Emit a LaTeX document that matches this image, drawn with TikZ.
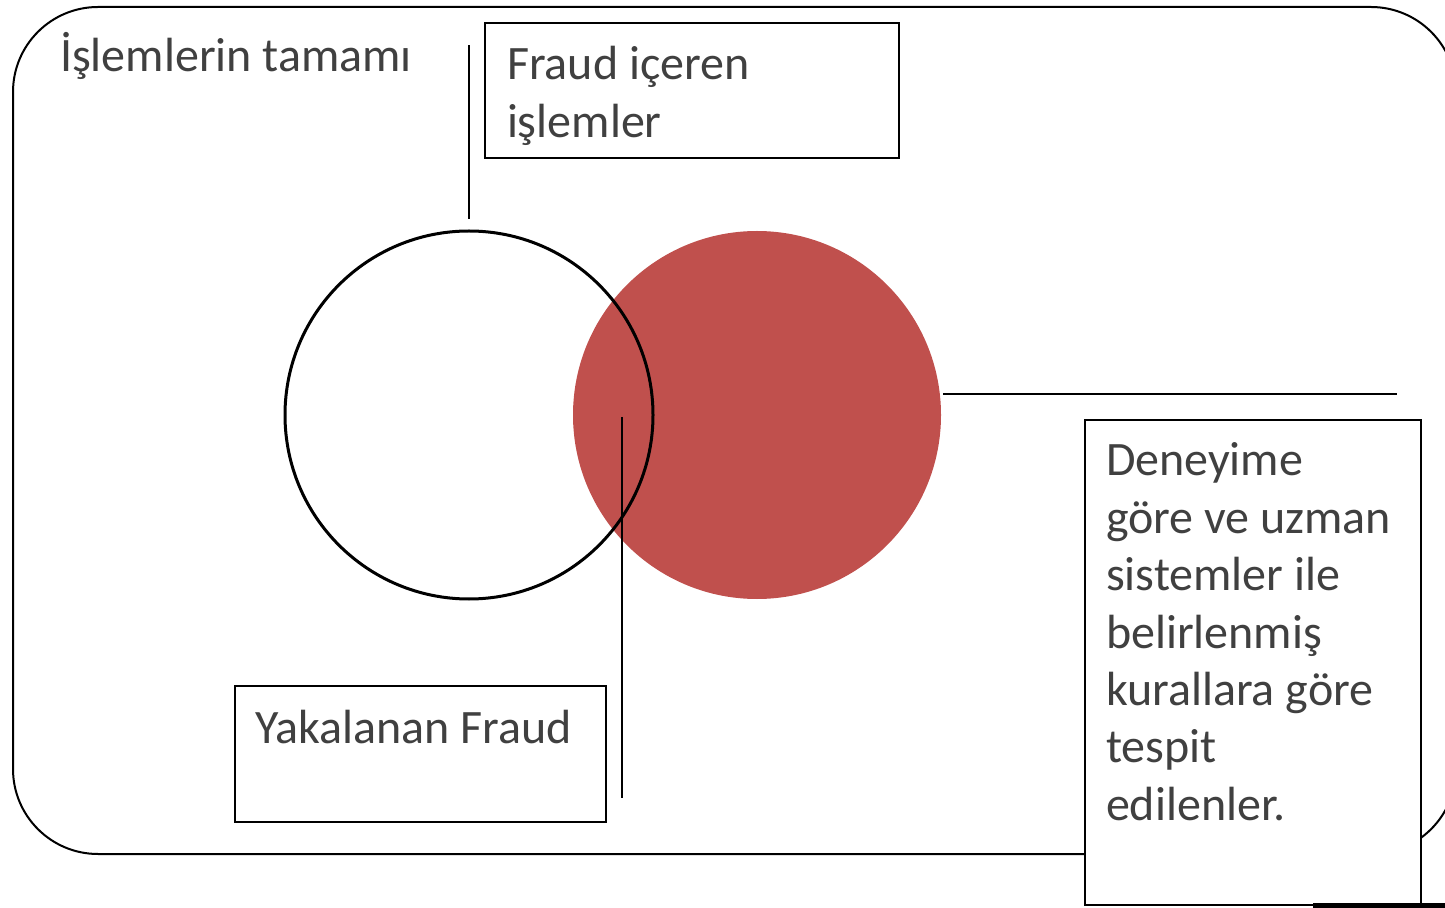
\documentclass[tikz,border=0pt]{standalone}
\usepackage{fontspec}
\setmainfont{Carlito}
\definecolor{fraudred}{HTML}{C0504D}
\definecolor{labelgray}{HTML}{404040}

\begin{document}
\begin{tikzpicture}[x=0.5pt, y=-0.5pt,
    every node/.style={inner sep=0pt, outer sep=0pt},
    labelbox/.style={draw, line width=1pt, fill=white, rectangle},
    labeltext/.style={anchor=base west, align=flush left, text width=190pt, text=labelgray, font=\fontsize{24pt}{28.7pt}\selectfont},
    leader/.style={line width=1pt}]
    \useasboundingbox (0,0) rectangle (1445,908);
    % outer frame: all transactions
    \node (allBox) [draw, line width=1pt, rounded corners=42.5pt, minimum width=721.5pt, minimum height=423.5pt] at (734.5,430.5) {};
    \node (allText) [labeltext] at (60,72) {İşlemlerin tamamı};
    % the two sets
    \node (fraudCircle) [circle, fill=fraudred, minimum size=184pt] at (757,415) {};
    \node (allCircle) [circle, draw, line width=1.5pt, minimum size=184pt] at (469,415) {};
    % leader lines
    \coordinate (allTip) at (469,45);
    \coordinate (catchTop) at (622,417);
    \coordinate (catchEnd) at (622,798);
    \coordinate (ruleStart) at (943,394);
    \coordinate (ruleEnd) at (1397,394);
    \draw[leader] ([yshift=6pt]allCircle.north) -- (allTip);
    \draw[leader] (catchTop) -- (catchEnd);
    \draw[leader] (ruleStart) -- (ruleEnd);
    % callout boxes
    \node (fraudBox) [labelbox, minimum width=207pt, minimum height=67.5pt] at (692,90.5) {};
    \node (fraudText) [labeltext] at (507,80) {Fraud içeren\\işlemler};
    \node (catchBox) [labelbox, minimum width=185.5pt, minimum height=68pt] at (420.5,754) {};
    \node (catchText) [labeltext] at (255,743) {Yakalanan Fraud};
    \node (ruleBox) [labelbox, minimum width=168pt, minimum height=242.5pt] at (1253,662.5) {};
    \node (ruleText) [labeltext] at (1106,476) {Deneyime\\göre ve uzman\\sistemler ile\\belirlenmiş\\kurallara göre\\tespit\\edilenler.};
    % edge of the next shape, cut off by the page
    \fill (1313,903) rectangle (1445,908);
\end{tikzpicture}
\end{document}
